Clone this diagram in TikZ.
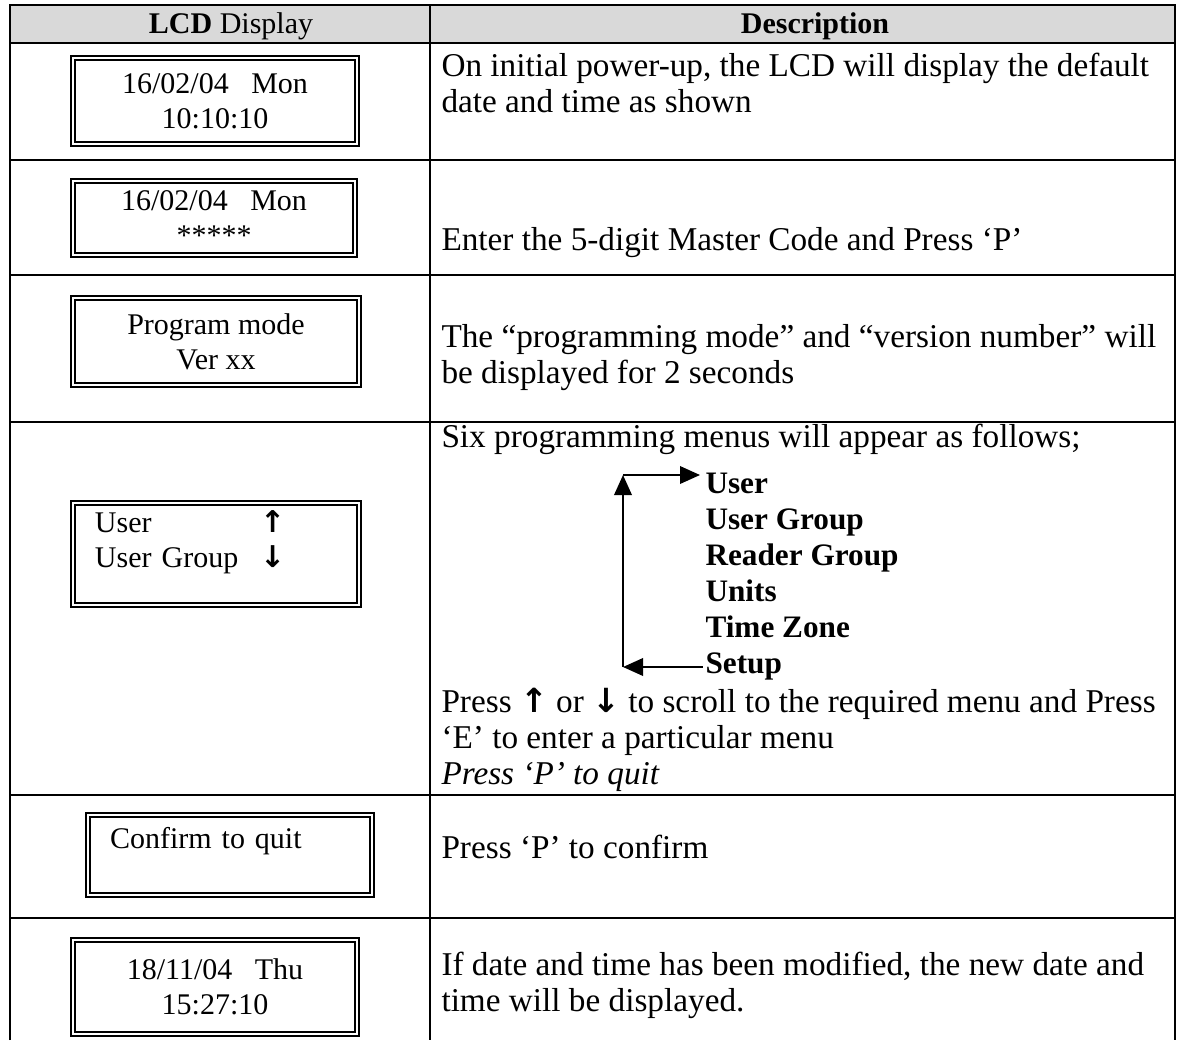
\documentclass[tikz,border=0pt]{standalone}
\usepackage{fontspec}
\setmainfont{Liberation Serif}
\newfontfamily\arrowfont{DejaVu Sans}
\usetikzlibrary{arrows.meta}
\definecolor{headgray}{RGB}{217,217,217}
\newcommand\lcdup{{\arrowfont\bfseries ↑}}
\newcommand\lcddown{{\arrowfont\bfseries ↓}}

\begin{document}
\begin{tikzpicture}[
  x=0.4pt, y=-0.4pt,
  font=\fontsize{12}{14}\selectfont,
  rule/.style={line width=0.8pt},
  lcd/.style={draw,line width=0.8pt,double,double distance=0.8pt,inner sep=0pt,align=center,minimum width=113.6pt},
  txt/.style={anchor=north west,align=left,inner sep=0pt,font=\fontsize{13.3}{14.2}\selectfont},
  menu/.style={anchor=base west,inner sep=0pt,font=\fontsize{12.5}{14}\selectfont\bfseries},
  arr/.style={-{Triangle[length=8pt,width=7pt]},line width=0.8pt}
]
\useasboundingbox (0,0) rectangle (1178,1040);
% table frame
\fill[headgray] (10,5) rectangle (1175,43);
\draw[rule] (10,1040) -- (10,5) -- (1175,5) -- (1175,1040);
\draw[rule] (430,5) -- (430,1040);
\draw[rule] (10,43) -- (1175,43) (10,160) -- (1175,160) (10,275) -- (1175,275)
  (10,422) -- (1175,422) (10,795) -- (1175,795) (10,918) -- (1175,918);
\node[anchor=base,inner sep=0pt] (hl) at (231,33) {\textbf{LCD} Display};
\node[anchor=base,inner sep=0pt,font=\fontsize{12}{14}\selectfont\bfseries] (hr) at (815,33) {Description};

% LCD displays
\node[lcd,minimum height=34.4pt] (d1) at (215,101) {16/02/04~~~Mon\\10:10:10};
\node[lcd,minimum width=112.8pt,minimum height=29.6pt] (d2) at (214,218) {16/02/04~~~Mon\\*****};
\node[lcd,minimum width=114.4pt,minimum height=34.8pt] (d3) at (216,341.5) {Program mode\\Ver xx};
\node[lcd,minimum width=114.4pt,minimum height=40.8pt,text width=96.8pt,align=left] (d4) at (216,554)
  {\makebox[66pt][l]{User}\lcdup\\\makebox[66pt][l]{User Group}\lcddown\\[-2pt]\mbox{}};
\node[lcd,minimum height=32pt,text width=96pt,align=left] (d5) at (230,855) {Confirm to quit\\\mbox{}};
\node[lcd,minimum height=37.6pt] (d6) at (215,987) {18/11/04~~~Thu\\15:27:10};

% descriptions
\node[txt] (t1) at (441,53) {On initial power-up, the LCD will display the default\\date and time as shown};
\node[txt] (t2) at (441,227) {Enter the 5-digit Master Code and Press ‘P’};
\node[txt] (t3) at (441,324) {The “programming mode” and “version number” will\\be displayed for 2 seconds};
\node[txt] (t4) at (441,424) {Six programming menus will appear as follows;};
\node[menu] (m1) at (705,493) {User};
\node[menu] (m2) at (705,529) {User Group};
\node[menu] (m3) at (705,565) {Reader Group};
\node[menu] (m4) at (705,601) {Units};
\node[menu] (m5) at (705,637) {Time Zone};
\node[menu] (m6) at (705,673) {Setup};
\node[txt,font=\fontsize{13.3}{14.4}\selectfont] (t5) at (441,688)
  {Press \lcdup{} or \lcddown{} to scroll to the required menu and Press\\‘E’ to enter a particular menu\\\textit{Press ‘P’ to quit}};
\node[txt] (t6) at (441,835) {Press ‘P’ to confirm};
\node[txt] (t7) at (441,952) {If date and time has been modified, the new date and\\time will be displayed.};

% scroll loop
\coordinate (top) at (623,475);
\coordinate (bot) at (623,667);
\draw[arr] ([xshift=-1pt]m6.west |- bot) -- (bot);
\draw[arr] (bot) -- (top);
\draw[arr] (top) -- ([xshift=-2pt]m1.west |- top);
\end{tikzpicture}
\end{document}
